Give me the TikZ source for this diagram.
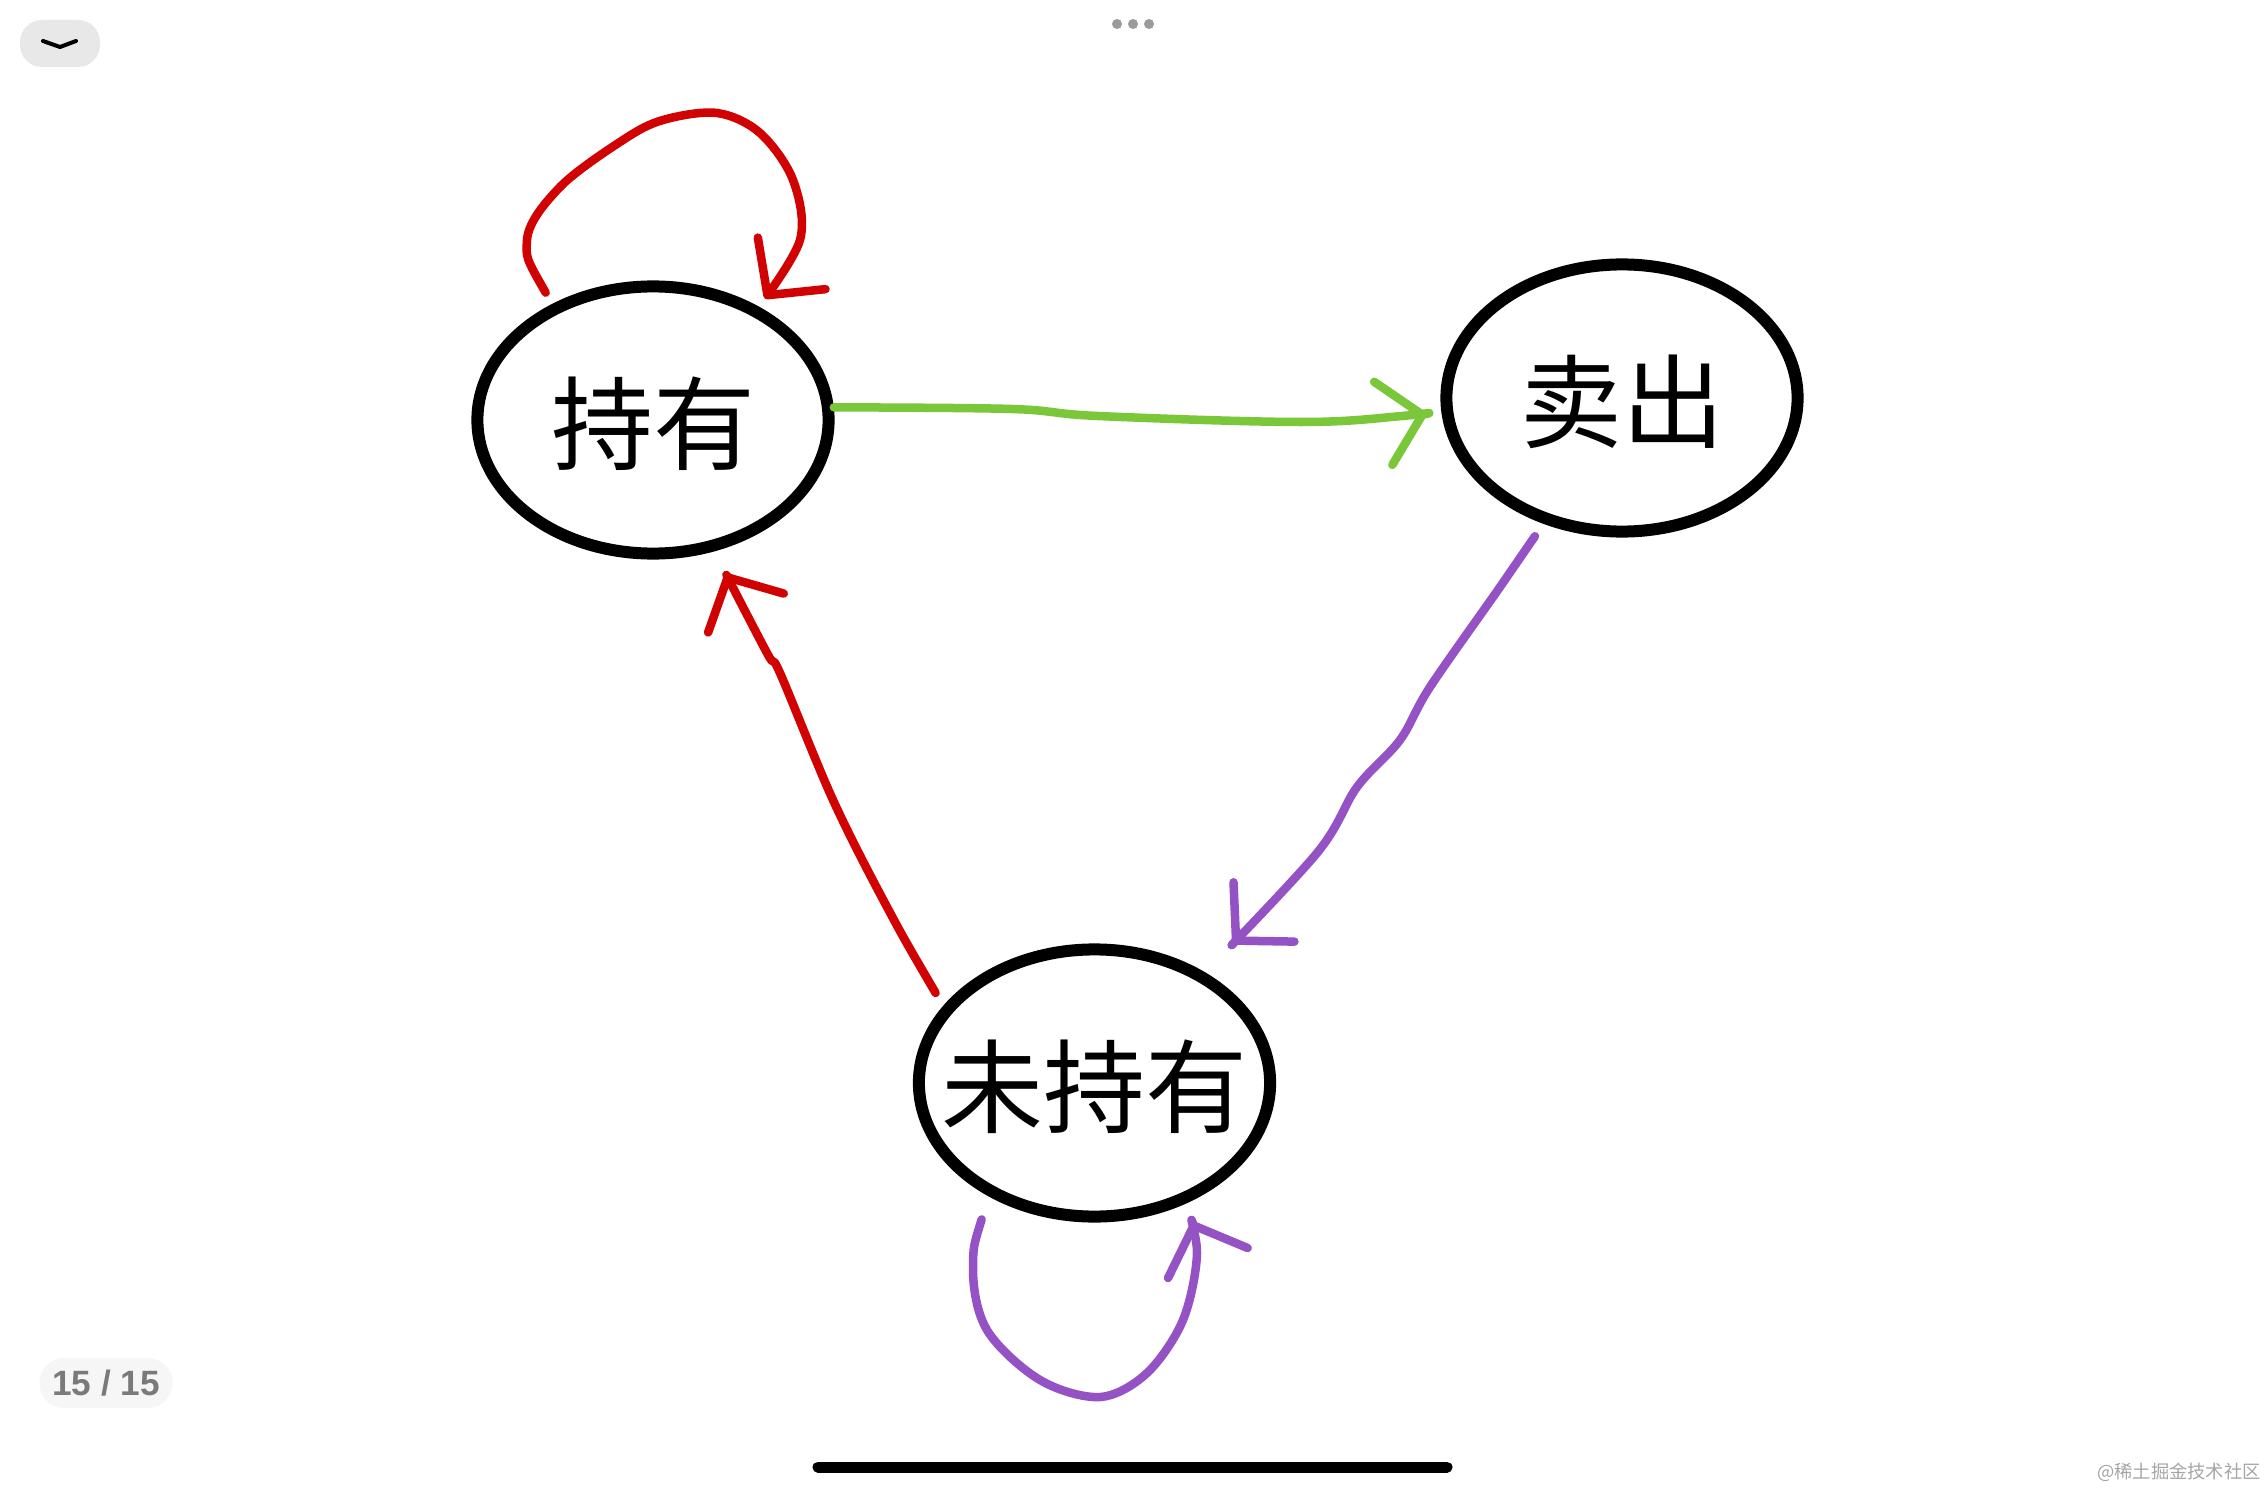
\documentclass[tikz,border=0pt]{standalone}
\usepackage{fontspec}
\usetikzlibrary{shapes.geometric,arrows.meta}

\newfontfamily\cjk{Noto Sans CJK SC}
\newfontfamily\uifont{Liberation Sans}

\definecolor{penred}{RGB}{208,2,2}
\definecolor{pengreen}{RGB}{122,199,58}
\definecolor{penpurple}{RGB}{148,82,196}
\definecolor{chipgray}{RGB}{232,232,232}
\definecolor{pillgray}{RGB}{246,246,246}
\definecolor{dotgray}{RGB}{155,155,155}

\begin{document}
\begin{tikzpicture}[
    x=0.01cm, y=-0.01cm,
    >={Straight Barb[length=4mm,width=8.5mm,round]},
    % Styling for the states
    state/.style={ellipse, draw=black, line width=0.12cm, fill=white, inner sep=-0.4cm,
        minimum width=3.51cm, minimum height=2.67cm, text height=0.9cm, text depth=0.05cm,
        font=\cjk\fontsize{29pt}{30pt}\selectfont},
    pen/.style={line width=0.085cm, line cap=round, line join=round},
    pill/.style={rectangle, rounded corners=0.25cm, fill=pillgray, minimum width=1.33cm,
        minimum height=0.5cm, text=black!52, font=\uifont\bfseries\fontsize{10pt}{11pt}\selectfont}
]

    % Page
    \fill[white] (0,0) rectangle (2266,1488);
    \useasboundingbox (0,0) rectangle (2266,1488);

    % Screen chrome
    \fill[chipgray, rounded corners=0.22cm] (20,20) rectangle (100,67);
    \draw[line width=0.04cm, line cap=round, line join=round] (43,41) -- (60,47) -- (76,41);
    \foreach \x in {1117,1133,1149} {
        \fill[dotgray] (\x,24) circle (0.05cm);
    }
    \node[pill] (pager) at (106,1383) {15 / 15};
    \draw[line width=0.11cm, line cap=round] (818,1467) -- (1447,1467);
    \node[text=black!35, font=\cjk\fontsize{5.2pt}{6pt}\selectfont] (mark) at (2179,1472) {@稀土掘金技术社区};

    % States
    \node[state] (hold)    at (653,420)     {持有};
    \node[state] (sell)    at (1622,398)    {卖出};
    \node[state] (notheld) at (1094.5,1083) {未持有};

    % Keep holding
    \draw[pen, penred, ->, shorten <=1.3mm, shorten >=1mm] plot[smooth, tension=0.55] coordinates {
        (hold.131) (527,240) (560,187) (623,140) (663,120)
        (717,113) (760,133) (793,180) (800,240) (hold.47)};

    % Hold -> sell
    \draw[pen, pengreen, ->, shorten >=1.5mm] plot[smooth, tension=0.6] coordinates {
        (hold.4) (1012,409) (1098,416) (1301,422) (1402,416) (sell.184)};

    % Sell -> not held
    \draw[pen, penpurple, ->, shorten <=1.5mm, shorten >=4mm] plot[smooth, tension=0.55] coordinates {
        (sell.238) (1500,587) (1430,687) (1400,740) (1357,787) (1317,853)
        (notheld.45)};

    % Stay out
    \draw[pen, penpurple, ->, shorten <=2.4mm, shorten >=1.9mm] plot[smooth, tension=0.55] coordinates {
        (notheld.227) (973,1267) (987,1330) (1040,1380) (1100,1397)
        (1147,1373) (1183,1320) (1197,1253) (notheld.307)};

    % Not held -> hold
    \draw[pen, penred, ->, shorten <=1.5mm, shorten >=2.5mm] plot[smooth, tension=0.55] coordinates {
        (notheld.153) (887,907) (833,800) (780,673) (767,653)
        (hold.295)};

\end{tikzpicture}
\end{document}
